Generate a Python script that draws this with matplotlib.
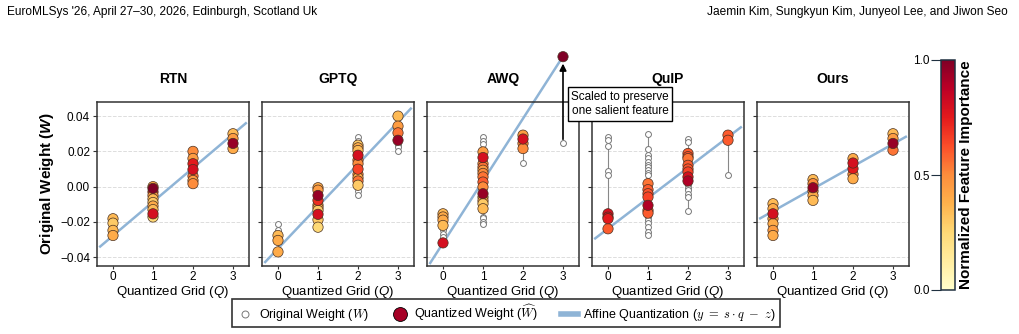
import matplotlib
matplotlib.use("Agg")
import matplotlib.pyplot as plt
from matplotlib.lines import Line2D
import numpy as np

plt.rcParams['font.family'] = ['Liberation Sans', 'DejaVu Sans']
plt.rcParams['mathtext.fontset'] = 'custom'
plt.rcParams['mathtext.rm'] = 'Liberation Sans'
plt.rcParams['mathtext.it'] = 'Liberation Sans:italic'
plt.rcParams['mathtext.bf'] = 'Liberation Sans:bold'
plt.rcParams['mathtext.bfit'] = 'Liberation Sans:bold:italic'

methods = ['RTN', 'GPTQ', 'AWQ', 'QuIP', 'Ours']
grid = [0, 1, 2, 3]

# affine line per method: y = slope * q + intercept
slopes = [0.0192, 0.0239, 0.0353, 0.0173, 0.0127]
intercepts = [-0.0278, -0.0351, -0.0320, -0.0238, -0.0139]

# coloured points: (q, weight, importance)
colored = {
    'RTN': [
        (0, -0.0182, 0.35), (0, -0.0207, 0.30), (0, -0.0248, 0.35), (0, -0.0277, 0.40),
        (1, 0.0000, 0.40), (1, -0.0030, 0.70), (1, -0.0050, 0.45), (1, -0.0070, 0.35),
        (1, -0.0090, 0.30), (1, -0.0110, 0.40), (1, -0.0130, 0.35), (1, -0.0172, 0.25),
        (1, -0.0154, 0.80), (1, -0.0010, 1.00),
        (2, 0.0200, 0.50), (2, 0.0160, 0.45), (2, 0.0060, 0.55), (2, 0.0035, 0.45),
        (2, 0.0017, 0.50), (2, 0.0130, 0.75), (2, 0.0097, 0.80),
        (3, 0.0300, 0.35), (3, 0.0273, 0.45), (3, 0.0216, 0.40), (3, 0.0245, 0.95),
    ],
    'GPTQ': [
        (0, -0.0277, 0.35), (0, -0.0305, 0.40), (0, -0.0370, 0.40),
        (1, -0.0006, 0.40), (1, -0.0020, 0.45), (1, -0.0105, 0.35), (1, -0.0120, 0.40),
        (1, -0.0135, 0.30), (1, -0.0188, 0.30), (1, -0.0230, 0.25), (1, -0.0078, 0.70),
        (1, -0.0157, 0.80), (1, -0.0050, 0.95),
        (2, 0.0235, 0.30), (2, 0.0220, 0.40), (2, 0.0205, 0.35), (2, 0.0150, 0.55),
        (2, 0.0130, 0.50), (2, 0.0070, 0.50), (2, 0.0050, 0.40), (2, 0.0032, 0.55),
        (2, 0.0008, 0.30), (2, 0.0099, 0.65), (2, 0.0178, 0.80),
        (3, 0.0400, 0.35), (3, 0.0343, 0.45), (3, 0.0305, 0.55), (3, 0.0263, 0.95),
    ],
    'AWQ': [
        (0, -0.0154, 0.35), (0, -0.0172, 0.40), (0, -0.0190, 0.40), (0, -0.0220, 0.35),
        (0, -0.0319, 0.80),
        (1, 0.0197, 0.45), (1, 0.0130, 0.50), (1, 0.0110, 0.55), (1, 0.0093, 0.45),
        (1, 0.0075, 0.50), (1, 0.0055, 0.55), (1, 0.0026, 0.60), (1, -0.0002, 0.50),
        (1, -0.0060, 0.35), (1, -0.0080, 0.40), (1, -0.0097, 0.30), (1, -0.0125, 0.35),
        (1, 0.0165, 0.80), (1, -0.0040, 0.95),
        (2, 0.0292, 0.45), (2, 0.0245, 0.50), (2, 0.0216, 0.50), (2, 0.0270, 0.80),
        (3, 0.0737, 1.00),
    ],
    'QuIP': [
        (0, -0.0239, 0.60), (0, -0.0154, 0.80), (0, -0.0173, 0.80), (0, -0.0182, 0.75),
        (1, 0.0017, 0.55), (1, -0.0017, 0.60), (1, -0.0040, 0.62), (1, -0.0059, 0.65),
        (1, -0.0135, 0.60), (1, -0.0150, 0.60), (1, -0.0106, 0.90),
        (2, 0.0188, 0.60), (2, 0.0170, 0.62), (2, 0.0159, 0.55), (2, 0.0121, 0.60),
        (2, 0.0100, 0.62), (2, 0.0083, 0.65), (2, 0.0055, 0.80), (2, 0.0032, 0.90),
        (3, 0.0292, 0.60), (3, 0.0263, 0.60),
    ],
    'Ours': [
        (0, -0.0097, 0.35), (0, -0.0125, 0.40), (0, -0.0182, 0.45), (0, -0.0210, 0.40),
        (0, -0.0248, 0.45), (0, -0.0277, 0.40), (0, -0.0154, 0.80),
        (1, 0.0040, 0.35), (1, 0.0017, 0.50), (1, -0.0025, 0.50), (1, -0.0050, 0.40),
        (1, -0.0078, 0.35), (1, -0.0006, 0.95),
        (2, 0.0159, 0.40), (2, 0.0070, 0.50), (2, 0.0045, 0.40), (2, 0.0102, 0.75),
        (2, 0.0134, 0.80),
        (3, 0.0300, 0.35), (3, 0.0273, 0.45), (3, 0.0207, 0.55), (3, 0.0245, 0.95),
    ],
}

# original weights (hollow markers)
original = {
    'RTN': [],
    'GPTQ': [
        (0, -0.0210), (0, -0.0248),
        (2, 0.0280), (2, 0.0260), (2, -0.0025), (2, -0.0050),
        (3, 0.0235), (3, 0.0225), (3, 0.0203),
    ],
    'AWQ': [
        (0, -0.0248), (0, -0.0267), (0, -0.0286),
        (1, 0.0279), (1, 0.0260), (1, 0.0240), (1, -0.0170), (1, -0.0180),
        (1, -0.0200), (1, -0.0210),
        (2, 0.0300), (2, 0.0135),
        (3, 0.0245),
    ],
    'QuIP': [
        (0, 0.0279), (0, 0.0263), (0, 0.0231), (0, 0.0089), (0, 0.0064),
        (1, 0.0298), (1, 0.0216), (1, 0.0178), (1, 0.0160), (1, 0.0140), (1, 0.0125),
        (1, 0.0110), (1, 0.0093), (1, 0.0078), (1, 0.0064), (1, -0.0173),
        (1, -0.0190), (1, -0.0205), (1, -0.0230), (1, -0.0260), (1, -0.0277),
        (2, 0.0273), (2, 0.0254), (2, 0.0010), (2, -0.0005), (2, -0.0020),
        (2, -0.0040), (2, -0.0059), (2, -0.0138),
        (3, 0.0064),
    ],
    'Ours': [],
}

cmap = plt.get_cmap('YlOrRd')
line_color = '#8fb4d6'

fig = plt.figure(figsize=(10.19, 3.34), dpi=100)
lefts = [97, 262, 427, 592, 757]
axes = []
for i, m in enumerate(methods):
    ax = fig.add_axes([lefts[i] / 1019, 1 - 266 / 334, 152 / 1019, 164 / 334])
    axes.append(ax)
    last_x = 3.0 if m == 'AWQ' else 3.32
    xs = np.array([-0.32, last_x])
    ax.plot(xs, slopes[i] * xs + intercepts[i], color=line_color, lw=1.8,
            zorder=1, clip_on=(m != 'AWQ'))

    # vertical range lines per grid level
    for q in grid:
        vals = [w for (g, w) in original[m] if g == q] + \
               [w for (g, w, _) in colored[m] if g == q and not (m == 'AWQ' and q == 3)]
        if len(vals) > 1:
            ax.plot([q, q], [min(vals), max(vals)], color='#888888', lw=0.8, zorder=2)

    if original[m]:
        oq = [g for g, _ in original[m]]
        ow = [w for _, w in original[m]]
        ax.scatter(oq, ow, s=18, facecolor='white', edgecolor='#777777',
                   linewidth=0.7, zorder=3)

    cq = [g for g, _, _ in colored[m]]
    cw = [w for _, w, _ in colored[m]]
    ci = [c for _, _, c in colored[m]]
    ax.scatter(cq, cw, c=ci, cmap=cmap, vmin=0, vmax=1, s=55,
               edgecolor='#4a3020', linewidth=0.5, zorder=4, clip_on=False)

    ax.set_xlim(-0.4, 3.4)
    ax.set_ylim(-0.045, 0.048)
    ax.set_xticks(grid)
    ax.set_yticks([-0.04, -0.02, 0.0, 0.02, 0.04])
    ax.yaxis.grid(True, linestyle='--', color='#dddddd', lw=0.7)
    ax.set_axisbelow(True)
    ax.tick_params(labelsize=8.5, length=3, pad=2, color='#333333')
    ax.tick_params(axis='x', length=2.5, pad=1)
    if i == 0:
        ax.set_yticklabels([f'{v:.2f}'.replace('-', '\u2212') for v in ax.get_yticks()])
        ax.set_ylabel(r'Original Weight ($\mathbfit{W}$)', fontsize=11,
                      fontweight='bold', labelpad=3)
    else:
        ax.set_yticklabels([])
    ax.set_xlabel(r'Quantized Grid ($Q$)', fontsize=9.5, labelpad=0.5)
    ax.set_title(m, fontsize=10, fontweight='bold', pad=14)
    for s in ax.spines.values():
        s.set_color('#333333')
        s.set_linewidth(1.1)

# AWQ scaling annotation
awq = axes[2]
awq.annotate('', xy=(3, 0.0737), xytext=(3, 0.0245),
             arrowprops=dict(arrowstyle='-|>', color='black', lw=1.2,
                             shrinkA=3, shrinkB=5),
             annotation_clip=False, zorder=6)
fig.text(620 / 1019, 1 - 104 / 334, 'Scaled to preserve\none salient feature',
         ha='center', va='center', fontsize=8.5, linespacing=1.3, zorder=10,
         bbox=dict(boxstyle='square,pad=0.3', fc='white', ec='black', lw=1.0))

# colorbar
cax = fig.add_axes([941 / 1019, 1 - 290 / 334, 14 / 1019, 230 / 334])
sm = plt.cm.ScalarMappable(cmap=cmap, norm=plt.Normalize(0, 1))
cb = fig.colorbar(sm, cax=cax, ticks=[0.0, 0.5, 1.0])
cb.outline.set_edgecolor('#1f3040')
cb.outline.set_linewidth(1.1)
cax.yaxis.set_ticks_position('left')
cax.tick_params(labelsize=8.5, length=7, pad=1, color='#1f3040')
cax.yaxis.set_label_position('right')
cb.set_label('Normalized Feature Importance', fontsize=11, fontweight='bold', labelpad=3)

# legend
handles = [
    Line2D([], [], marker='o', ls='none', markersize=5, markerfacecolor='white',
           markeredgecolor='#777777', markeredgewidth=0.7),
    Line2D([], [], marker='o', ls='none', markersize=10, markerfacecolor=cmap(0.92),
           markeredgecolor='black', markeredgewidth=0.6),
    Line2D([], [], color=line_color, lw=4),
]
labels = [r'Original Weight ($W$)', r'Quantized Weight ($\widehat{W}$)',
          r'Affine Quantization ($y\ =\ s \cdot q\ -\ z$)']
leg = fig.legend(handles, labels, loc='center', bbox_to_anchor=(506 / 1019, 1 - 313 / 334),
                 ncol=3, fontsize=9, frameon=True, fancybox=False, edgecolor='black',
                 handlelength=1.4, handletextpad=0.4, columnspacing=1.8,
                 borderpad=0.35)
leg.get_frame().set_linewidth(1.2)
for t in leg.get_texts():
    t.set_math_fontfamily('cm')

# page header
fig.text(7 / 1019, 1 - 12 / 334, "EuroMLSys '26, April 27\u201330, 2026, Edinburgh, Scotland Uk",
         ha='left', va='center', fontsize=8.6)
fig.text(1008 / 1019, 1 - 12 / 334, 'Jaemin Kim, Sungkyun Kim, Junyeol Lee, and Jiwon Seo',
         ha='right', va='center', fontsize=8.6)

fig.savefig('out.png', dpi=100)
